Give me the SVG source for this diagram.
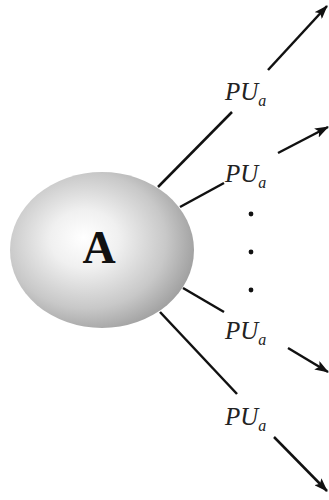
<svg xmlns="http://www.w3.org/2000/svg" width="329" height="500" viewBox="0 0 329 500">
<defs>
<radialGradient id="g" cx="0.42" cy="0.45" r="0.62" fx="0.4" fy="0.42">
<stop offset="0" stop-color="#ffffff"/>
<stop offset="0.3" stop-color="#f0f0f0"/>
<stop offset="0.7" stop-color="#c8c8c8"/>
<stop offset="1" stop-color="#9a9a9a"/>
</radialGradient>
<marker id="ah" markerWidth="14" markerHeight="10" refX="13" refY="5" orient="auto" markerUnits="userSpaceOnUse">
<path d="M0,0 L14,5 L0,10 L3,5 Z" fill="#111"/>
</marker>
<style>
.ln{stroke:#111;stroke-width:2.5;fill:none}
.ar{stroke:#111;stroke-width:2.5;fill:none;marker-end:url(#ah)}
.lb{font-family:"Liberation Serif",serif;font-style:italic;font-size:25px;fill:#222}
.sb{font-size:16px}
</style>
</defs>
<rect width="329" height="500" fill="#fff"/>
<g id="nodeA">
<ellipse cx="102" cy="250" rx="92" ry="78" fill="url(#g)"/>
<text x="99" y="263" text-anchor="middle" font-family="'Liberation Serif',serif" font-weight="bold" font-size="46" fill="#111">A</text>
</g>
<g id="connectors">
<line class="ln" x1="158" y1="187" x2="232" y2="112"/>
<line class="ar" x1="268" y1="70" x2="327" y2="6"/>
<line class="ln" x1="180" y1="207" x2="224" y2="183"/>
<line class="ar" x1="278" y1="153" x2="328" y2="127"/>
<line class="ln" x1="183" y1="288" x2="224" y2="312"/>
<line class="ar" x1="288" y1="348" x2="328" y2="372"/>
<line class="ln" x1="160" y1="312" x2="237" y2="394"/>
<line class="ar" x1="274" y1="437" x2="327" y2="491"/>
</g>
<g id="labels">
<text class="lb" x="225" y="100">PU<tspan class="sb" dy="6">a</tspan></text>
<text class="lb" x="225" y="182">PU<tspan class="sb" dy="6">a</tspan></text>
<text class="lb" x="225" y="339">PU<tspan class="sb" dy="6">a</tspan></text>
<text class="lb" x="225" y="425">PU<tspan class="sb" dy="6">a</tspan></text>
</g>
<g id="dots" fill="#111">
<circle cx="251" cy="214" r="2.4"/>
<circle cx="251" cy="252" r="2.4"/>
<circle cx="251" cy="290" r="2.4"/>
</g>
</svg>
